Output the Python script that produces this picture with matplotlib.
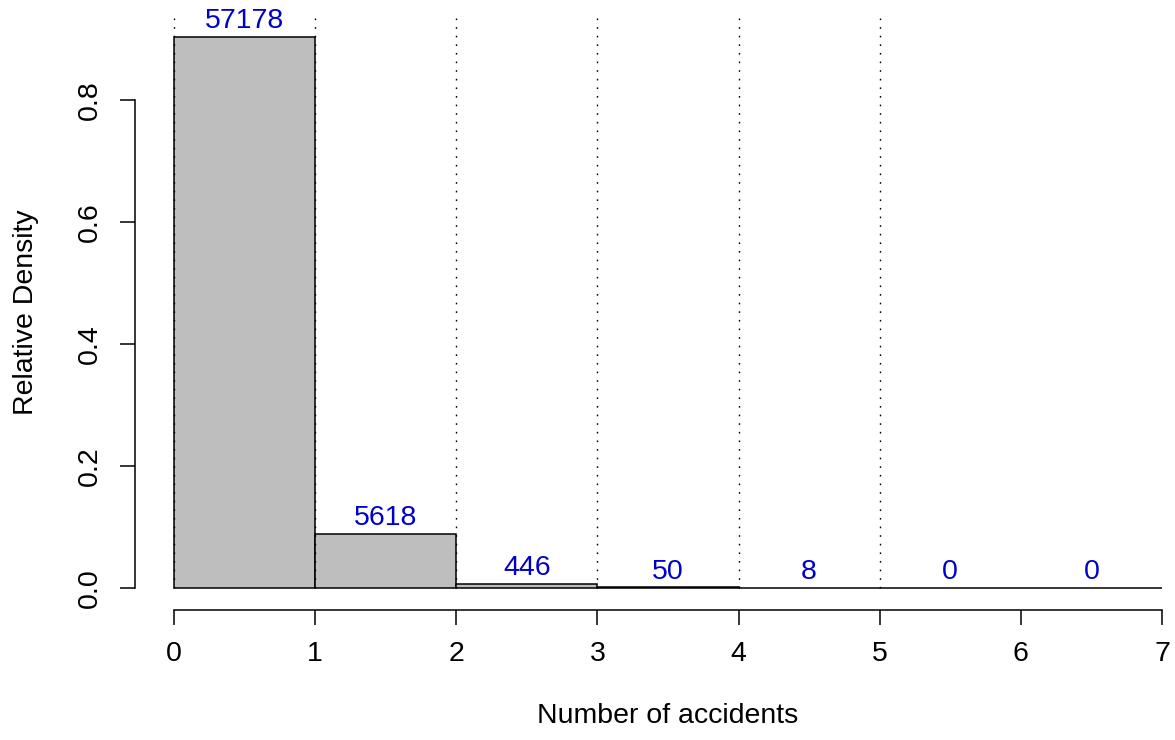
import matplotlib
matplotlib.use("Agg")
import matplotlib.pyplot as plt
import numpy as np

# ---- data ----
bin_edges = [0, 1, 2, 3, 4, 5, 6, 7]
counts = [57178, 5618, 446, 50, 8, 0, 0]
x_ticks = [0, 1, 2, 3, 4, 5, 6, 7]
y_ticks = [0.0, 0.2, 0.4, 0.6, 0.8]
guide_x = [0, 1, 2, 3, 4, 5]

plt.rcParams['font.family'] = ['Liberation Sans', 'DejaVu Sans']

counts = np.array(counts)
density = counts / counts.sum()
left = np.array(bin_edges[:-1])
width = np.diff(bin_edges)

fig = plt.figure(figsize=(11.75, 7.4), dpi=100)
# plot region in pixels (R style, 4% padding)
ax = fig.add_axes([134.5 / 1175, 130 / 740, (1201.5 - 134.5) / 1175, (610 - 15) / 740])

ymax = density.max()
ax.set_xlim(-0.04 * 7, 7 * 1.04)
ax.set_ylim(-0.04 * ymax, ymax * 1.04)

ax.bar(left, density, width=width, align='edge', color='#BEBEBE',
       edgecolor='black', linewidth=1.1, zorder=2)

# dotted guides
ax.vlines(guide_x, 0, ymax * 1.04, colors='black', linestyles=(0, (1.2, 5)),
          linewidth=1.0, zorder=3)

fs = 20.5
# count labels
for xl, w, d, c in zip(left, width, density, counts):
    ax.annotate(str(c), (xl + w / 2, d), xytext=(0, 11.5), textcoords='offset points',
                ha='center', va='center', color='#0000CD', fontsize=fs)

# R style axes
for s in ['top', 'right']:
    ax.spines[s].set_visible(False)
ax.spines['bottom'].set_bounds(0, 7)
ax.spines['left'].set_bounds(0, 0.8)
ax.spines['bottom'].set_linewidth(1.1)
ax.spines['left'].set_linewidth(1.1)
ax.set_xticks(x_ticks)
ax.set_yticks(y_ticks)
ax.set_yticklabels(['0.0', '0.2', '0.4', '0.6', '0.8'], rotation=90, va='center')
ax.tick_params(axis='both', length=11, width=1.1, labelsize=fs)
ax.tick_params(axis='x', pad=11)
ax.tick_params(axis='y', pad=12)

ax.set_xlabel('Number of accidents', fontsize=fs, labelpad=26)
ax.set_ylabel('Relative Density', fontsize=fs, labelpad=27)

fig.savefig('out.png', dpi=100)
